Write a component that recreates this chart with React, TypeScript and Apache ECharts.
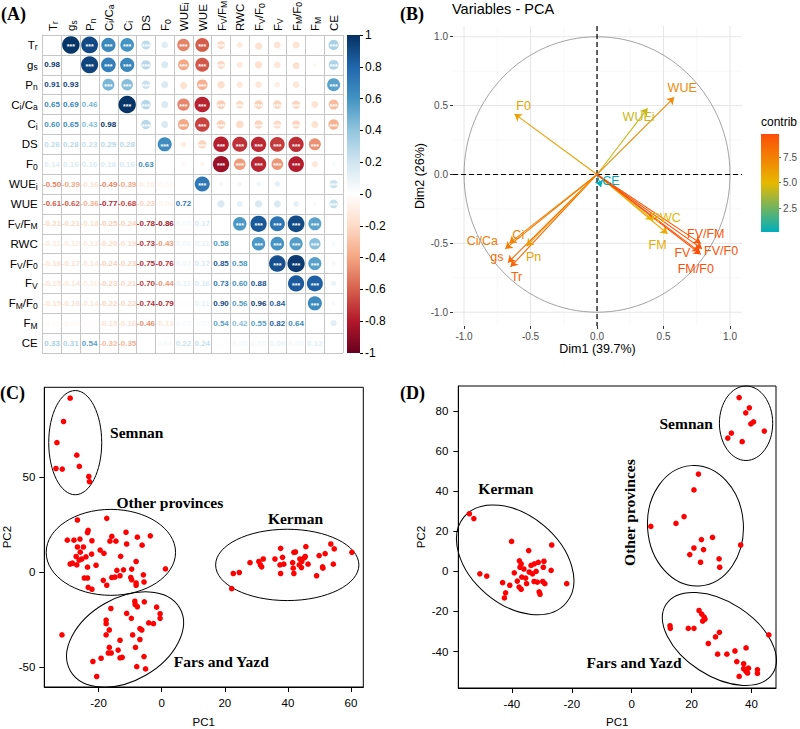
import React, { useEffect, useRef } from 'react';
import * as echarts from 'echarts';

// ---------------- Panel A: correlation matrix ----------------
const corrVars = ['Tr', 'gs', 'Pn', 'Ci/Ca', 'Ci', 'DS', 'F0', 'WUEi', 'WUE', 'FV/FM', 'RWC', 'FV/F0', 'FV', 'FM/F0', 'FM', 'CE'];
// lower triangle: row i holds correlations with variables 0..i-1
const corrRows: number[][] = [
  [],
  [0.98],
  [0.91, 0.93],
  [0.65, 0.69, 0.46],
  [0.60, 0.65, 0.43, 0.98],
  [0.26, 0.28, 0.23, 0.29, 0.28],
  [0.14, 0.16, 0.16, 0.16, 0.16, 0.63],
  [-0.50, -0.39, -0.16, -0.49, -0.39, -0.10, -0.04],
  [-0.61, -0.62, -0.36, -0.77, -0.68, -0.23, -0.06, 0.72],
  [-0.21, -0.21, -0.18, -0.25, -0.24, -0.78, -0.86, 0.05, 0.17],
  [-0.11, -0.12, -0.13, -0.20, -0.19, -0.73, -0.43, 0.06, 0.11, 0.58],
  [-0.16, -0.17, -0.14, -0.24, -0.23, -0.75, -0.76, 0.07, 0.17, 0.85, 0.58],
  [-0.15, -0.14, -0.10, -0.23, -0.21, -0.70, -0.44, 0.11, 0.16, 0.73, 0.60, 0.88],
  [-0.15, -0.16, -0.14, -0.22, -0.22, -0.74, -0.79, 0.01, 0.11, 0.90, 0.56, 0.96, 0.84],
  [-0.02, -0.04, -0.01, -0.15, -0.16, -0.46, -0.13, 0.03, 0.03, 0.54, 0.42, 0.55, 0.82, 0.64],
  [0.33, 0.31, 0.54, -0.32, -0.35, 0.00, 0.04, 0.22, 0.24, 0.01, 0.05, 0.05, 0.09, 0.05, 0.12],
];
const corrSigThreshold = 0.2;

// ---------------- Panel B: PCA variables ----------------
const pcaVarNames = ['Tr', 'gs', 'Pn', 'Ci/Ca', 'Ci', 'F0', 'WUEi', 'WUE', 'CE', 'RWC', 'FM', 'FV/FM', 'FV', 'FV/F0', 'FM/F0'];
const pcaDim1 = [-0.65, -0.67, -0.53, -0.69, -0.66, -0.62, 0.38, 0.58, 0.03, 0.42, 0.53, 0.78, 0.77, 0.79, 0.78];
const pcaDim2 = [-0.67, -0.64, -0.52, -0.54, -0.50, 0.44, 0.48, 0.56, -0.09, -0.33, -0.43, -0.50, -0.56, -0.54, -0.58];
const pcaContrib = [8.8, 8.6, 6.1, 7.7, 7.4, 6.1, 4.4, 7.1, 0.15, 5.0, 5.5, 9.5, 9.3, 9.6, 9.8];
const pcaAxisTicks = [-1, -0.5, 0, 0.5, 1];
const pcaMinorTicks = [-0.75, -0.25, 0.25, 0.75];
const contribTicks = [2.5, 5, 7.5];

// ---------------- Panel C: PC scores ----------------
const cSemnan: number[][] = [[-29.0, 91.5], [-31.1, 79.2], [-33.2, 68.1], [-26.9, 61.5], [-26.1, 55.6], [-33.5, 54.5], [-31.5, 54.2], [-23.1, 50.3], [-22.9, 47.6]];
const cOther: number[][] = [
  [-26.7, 27.4], [-17.4, 28.3], [-23.3, 22.0], [-23.5, 20.8], [-11.3, 21.0], [-3.6, 19.1], [-15.8, 18.8], [-7.7, 18.4],
  [-29.9, 16.8], [-27.8, 16.8], [-25.9, 17.4], [-22.1, 16.5], [-16.4, 16.3], [-14.5, 16.3], [-11.1, 14.8], [-6.2, 14.2],
  [-26.7, 13.2], [-24.8, 13.2], [-19.5, 11.6], [-18.3, 9.9], [-22.2, 9.5], [-27.1, 8.2], [-25.3, 6.9], [-26.1, 6.3],
  [-13.0, 8.3], [-8.1, 5.6], [-29.0, 4.3], [-28.3, 4.7], [-26.9, 3.8], [-23.5, 2.6], [-20.8, 3.6], [-12.1, 1.2],
  [-14.2, 0.9], [-9.5, 1.6], [1.2, 1.7], [-18.5, -4.3], [-15.8, -2.8], [-14.8, -2.6], [-9.8, -2.8], [-5.8, -1.4],
  [-17.4, -6.9], [-24.5, -3.1], [-23.5, -3.1], [-8.1, -5.7], [-8.1, -6.9], [-5.6, -5.2], [-23.3, -8.0], [-22.1, -9.0],
  [-13.2, -1.9], [-9.5, -4.0], [-24.0, 8.0], [-25.8, 10.5],
];
const cFarsYazd: number[][] = [
  [-8.5, -15.3], [-8.4, -17.0], [-5.5, -15.6], [-1.6, -18.4], [-7.7, -18.2], [-16.1, -19.1], [-11.1, -21.7], [-0.5, -21.9],
  [-0.5, -24.3], [-9.6, -24.3], [-17.6, -25.2], [-17.6, -27.1], [-4.1, -26.7], [-2.6, -27.1], [-16.6, -30.4], [-6.9, -29.7],
  [-6.3, -30.4], [-17.6, -33.0], [-9.2, -33.0], [-31.6, -33.0], [-13.2, -35.8], [-6.9, -35.4], [-16.6, -39.6], [-8.3, -39.6],
  [-13.8, -41.0], [-16.9, -42.5], [-16.0, -42.5], [-13.2, -45.1], [-12.5, -44.8], [-5.6, -44.4], [-19.2, -45.3], [-21.8, -47.0],
  [-7.9, -49.7], [-5.1, -50.9], [-20.6, -54.9],
];
const cKerman: number[][] = [
  [60.3, 10.4], [53.6, 14.8], [54.7, 12.2], [51.8, 9.7], [49.9, 8.7], [54.4, 4.2], [51.0, 2.8], [51.1, 2.1], [49.1, -1.9],
  [45.7, 13.4], [41.9, 10.4], [42.4, 10.6], [37.7, 12.5], [45.5, 8.2], [38.3, 7.8], [35.9, 6.9], [32.2, 6.9], [30.8, 5.6],
  [28.0, 5.0], [31.3, 3.8], [31.7, 2.8], [37.5, 3.8], [38.7, 4.2], [41.5, 5.0], [43.8, 6.9], [44.4, 5.6], [43.6, 3.8],
  [46.4, 4.2], [44.3, 2.4], [41.7, 2.1], [37.7, -0.7], [41.9, -0.7], [22.7, -0.7], [24.6, -0.2], [22.2, -8.7], [45.2, 7.5],
];
// ellipses: [centerX, centerY, semiAxisX, semiAxisY, rotationDeg]
const cEllipses: number[][] = [[-27.4, 68.1, 8.4, 27.4, 0], [-16.1, 10.4, 20.5, 22.6, 0], [39.8, 3.8, 22.7, 18.75, 0], [-11.6, -35.4, 20.0, 21.7, 30]];
const cGroupNames = ['Semnan', 'Other provinces', 'Kerman', 'Fars and Yazd'];
const cGroupLabelPos: number[][] = [[-7.9, 73.6], [2.6, 36.5], [42.4, 28.1], [18.9, -47.0]];
const cXTicks = [-20, 0, 20, 40, 60];
const cYTicks = [-50, 0, 50];

// ---------------- Panel D: PC scores ----------------
const dSemnan: number[][] = [[35.9, 86.8], [39.3, 81.7], [38.1, 79.2], [40.7, 74.7], [39.8, 73.7], [44.3, 70.1], [33.3, 69.1], [32.1, 66.6], [36.9, 64.8]];
const dOther: number[][] = [
  [22.3, 48.6], [20.8, 40.7], [17.5, 27.4], [14.8, 24.0], [6.4, 22.5], [27.0, 17.0], [23.3, 15.9], [20.8, 11.7],
  [24.0, 10.9], [36.4, 13.2], [19.4, 8.4], [29.2, 6.3], [23.0, 4.6], [29.4, 2.1],
];
const dKerman: number[][] = [
  [-54.2, 28.8], [-52.7, 26.4], [-40.1, 15.0], [-34.4, 10.4], [-26.7, 13.2], [-37.5, 5.3], [-36.9, 3.8], [-29.3, 5.1],
  [-31.2, 4.5], [-32.5, 3.8], [-33.6, 3.0], [-29.5, 2.1], [-50.7, -1.2], [-48.4, -2.3], [-39.2, -0.7], [-36.0, 1.2],
  [-34.2, -0.3], [-31.9, 0.0], [-33.1, -1.2], [-26.9, 0.5], [-36.7, -2.8], [-35.4, -3.3], [-38.2, -4.8], [-43.1, -5.6],
  [-40.7, -6.9], [-35.1, -6.1], [-36.9, -8.9], [-37.6, -7.8], [-31.5, -5.3], [-32.6, -5.0], [-29.7, -5.0], [-29.0, -6.1],
  [-21.7, -6.1], [-42.1, -10.7], [-42.5, -13.2], [-30.9, -10.2], [-30.6, -11.4], [-37.3, 2.1],
];
const dFarsYazd: number[][] = [
  [22.5, -19.5], [23.4, -21.3], [24.2, -22.8], [23.7, -24.8], [24.5, -23.8], [12.8, -27.1], [12.9, -28.4], [18.9, -28.4],
  [20.8, -28.4], [29.3, -30.4], [28.0, -32.7], [45.8, -31.7], [25.6, -36.0], [38.2, -38.2], [28.7, -41.3], [31.8, -41.3],
  [34.5, -39.7], [35.1, -45.0], [37.4, -46.1], [37.4, -48.6], [39.0, -48.3], [38.2, -49.9], [38.7, -50.7], [42.0, -49.1],
  [42.0, -50.9], [35.9, -52.4],
];
const dEllipses: number[][] = [[38.2, 74.0, 8.9, 18.6, 0], [21.3, 22.8, 16.0, 30.1, 4], [-38.9, 5.8, 22.3, 22.3, -40], [29.3, -33.7, 21.2, 18.5, -33]];
const dGroupNames = ['Semnan', 'Kerman', 'Other provinces', 'Fars and Yazd'];
const dGroupLabelPos: number[][] = [[18.2, 73.7], [-42.0, 41.3], [-0.6, 29.4], [0.8, -45.3]];
const dGroupLabelRot = [0, 0, 90, 0];
const dXTicks = [-40, -20, 0, 20, 40];
const dYTicks = [-40, -20, 0, 20, 40, 60, 80];

// ---------------- styles ----------------
const SANS = '"Liberation Sans", Arial, sans-serif';
const SERIF = '"Liberation Serif", "Times New Roman", serif';
const RDBU = ['#67001F', '#B2182B', '#D6604D', '#F4A582', '#FDDBC7', '#FFFFFF', '#D1E5F0', '#92C5DE', '#4393C3', '#2166AC', '#053061'];
const CONTRIB_COLS = ['#00AFBB', '#E7B800', '#FC4E07'];
const CELL_LINE = '#C6C6C6';
const POINT_RED = '#FF0000';

const richName: Record<string, string> = {
  'Tr': '{n|T}{s|r}', 'gs': '{n|g}{s|s}', 'Pn': '{n|P}{s|n}', 'Ci/Ca': '{n|C}{s|i}{n|/C}{s|a}', 'Ci': '{n|C}{s|i}',
  'DS': '{n|DS}', 'F0': '{n|F}{s|0}', 'WUEi': '{n|WUE}{s|i}', 'WUE': '{n|WUE}', 'FV/FM': '{n|F}{s|V}{n|/F}{s|M}',
  'RWC': '{n|RWC}', 'FV/F0': '{n|F}{s|V}{n|/F}{s|0}', 'FV': '{n|F}{s|V}', 'FM/F0': '{n|F}{s|M}{n|/F}{s|0}',
  'FM': '{n|F}{s|M}', 'CE': '{n|CE}',
};
const richStyles = {
  n: { fontSize: 11.5, lineHeight: 14, color: '#000', fill: '#000', fontFamily: SANS },
  s: { fontSize: 8.5, lineHeight: 8, color: '#000', fill: '#000', fontFamily: SANS, verticalAlign: 'bottom' },
};

const pcaLabelOffset: Record<string, number[]> = {
  'Tr': [6, 10], 'gs': [-11, -6], 'Pn': [7, 11], 'Ci/Ca': [-23, -8], 'Ci': [9, -8], 'F0': [9, -8], 'WUEi': [-9, 9],
  'WUE': [8, -9], 'CE': [10, -6], 'RWC': [13, -2], 'FM': [-10, 11], 'FV/FM': [5, -9], 'FV': [-17, 1], 'FV/F0': [19, 2],
  'FM/F0': [-5, 15],
};

function hexToRgb(h: string) {
  return [parseInt(h.slice(1, 3), 16), parseInt(h.slice(3, 5), 16), parseInt(h.slice(5, 7), 16)];
}
function gradientColor(stops: string[], t: number) {
  const tt = Math.max(0, Math.min(1, t)) * (stops.length - 1);
  const i = Math.min(stops.length - 2, Math.floor(tt));
  const f = tt - i;
  const a = hexToRgb(stops[i]);
  const b = hexToRgb(stops[i + 1]);
  const c = a.map((v, k) => Math.round(v + (b[k] - v) * f));
  return `rgb(${c[0]},${c[1]},${c[2]})`;
}

function buildOption() {
  const upper: number[][] = [];
  const lower: number[][] = [];
  corrRows.forEach((row, i) => row.forEach((r, j) => {
    lower.push([j, i, r]);
    upper.push([i, j, r]);
  }));

  const contribMin = Math.min(...pcaContrib);
  const contribMax = Math.max(...pcaContrib);
  const contribColor = (c: number) => gradientColor(CONTRIB_COLS, (c - contribMin) / (contribMax - contribMin));

  const catAxisCommon = {
    type: 'category',
    data: corrVars,
    boundaryGap: true,
    axisLine: { show: true, lineStyle: { color: CELL_LINE } },
    axisTick: { show: false },
    splitLine: { show: true, interval: 0, lineStyle: { color: CELL_LINE, width: 1 } },
  };

  const baseRAxis = (gi: number, min: number, max: number, ticks: number[], name: string, nameGap: number, margin: number) => ({
    gridIndex: gi,
    type: 'value',
    min,
    max,
    name,
    nameLocation: 'middle',
    nameGap,
    nameTextStyle: { fontSize: 11.5, color: '#000', fontFamily: SANS },
    axisLine: { show: true, onZero: false, lineStyle: { color: '#000', width: 1 } },
    axisTick: { show: true, customValues: ticks, length: 5, inside: false, lineStyle: { color: '#000' } },
    axisLabel: { customValues: ticks, fontSize: 11.5, color: '#000', margin, fontFamily: SANS },
    splitLine: { show: false },
  });

  const ellipseSeries = (gi: number, data: number[][]) => ({
    type: 'custom',
    xAxisIndex: gi,
    yAxisIndex: gi,
    silent: true,
    z: 2,
    data,
    renderItem: (params: any, api: any) => {
      const p = api.coord([api.value(0), api.value(1)]);
      const s = api.size([api.value(2), api.value(3)]);
      return {
        type: 'ellipse',
        x: p[0],
        y: p[1],
        rotation: (api.value(4) * Math.PI) / 180,
        shape: { cx: 0, cy: 0, rx: s[0], ry: s[1] },
        style: { fill: 'none', stroke: '#000', lineWidth: 1 },
      };
    },
  });

  const groupLabelSeries = (gi: number, pos: number[][], names: string[], rot: number[]) => ({
    type: 'custom',
    xAxisIndex: gi,
    yAxisIndex: gi,
    silent: true,
    z: 4,
    data: pos.map((p, i) => [p[0], p[1], i]),
    renderItem: (params: any, api: any) => {
      const i = api.value(2);
      const p = api.coord([api.value(0), api.value(1)]);
      return {
        type: 'text',
        x: p[0],
        y: p[1],
        rotation: (rot[i] * Math.PI) / 180,
        style: {
          text: names[i], fill: '#000', fontSize: 15.5, fontWeight: 'bold', fontFamily: SERIF,
          align: 'center', verticalAlign: 'middle', textAlign: 'center', textVerticalAlign: 'middle',
        },
      };
    },
  });

  const pointSeries = (gi: number, data: number[][]) => ({
    type: 'scatter',
    xAxisIndex: gi,
    yAxisIndex: gi,
    symbol: 'circle',
    symbolSize: 5.6,
    itemStyle: { color: POINT_RED, opacity: 1 },
    z: 3,
    data,
  });

  return {
    animation: false,
    backgroundColor: '#fff',
    textStyle: { fontFamily: SANS },
    grid: [
      { left: 42.7, top: 35, width: 300.3, height: 318 },
      { left: 347, top: 35, width: 13, height: 318 },
      { left: 453, top: 26, width: 289, height: 300 },
      { left: 761, top: 134, width: 19, height: 98 },
      { left: 44.3, top: 387.3, width: 319, height: 302.7, show: true, borderColor: '#000', borderWidth: 1 },
      { left: 458.3, top: 386, width: 317.7, height: 304, show: true, borderColor: '#000', borderWidth: 1 },
    ],
    xAxis: [
      {
        ...catAxisCommon,
        gridIndex: 0,
        position: 'top',
        axisLabel: { show: false },
      },
      { gridIndex: 1, type: 'value', min: 0, max: 1, show: false },
      {
        gridIndex: 2, type: 'value', min: -1.083, max: 1.09,
        name: 'Dim1 (39.7%)', nameLocation: 'middle', nameGap: 16,
        nameTextStyle: { fontSize: 12.5, color: '#000', fontFamily: SANS },
        axisLine: { show: false, onZero: false },
        axisTick: { show: true, customValues: pcaAxisTicks, length: 3, lineStyle: { color: '#333' } },
        axisLabel: { customValues: pcaAxisTicks, formatter: (v: number) => v.toFixed(1), fontSize: 10, color: '#4D4D4D', margin: 5 },
        splitLine: { show: false },
      },
      { gridIndex: 3, type: 'value', min: 0, max: 1, show: false },
      baseRAxis(4, -37.2, 63.9, cXTicks, 'PC1', 29, 10),
      baseRAxis(5, -57.9, 48.2, dXTicks, 'PC1', 28, 10),
    ],
    yAxis: [
      {
        ...catAxisCommon,
        gridIndex: 0,
        inverse: true,
        axisLabel: { interval: 0, margin: 5, formatter: (v: string) => richName[v] ?? v, rich: richStyles },
      },
      {
        gridIndex: 1, type: 'value', min: -1, max: 1, interval: 0.2, position: 'right',
        axisLine: { show: false, onZero: false },
        axisTick: { show: true, length: 3, lineStyle: { color: '#000' } },
        axisLabel: { fontSize: 12, color: '#000', margin: 5, formatter: (v: number) => String(Math.round(v * 10) / 10) },
        splitLine: { show: false },
      },
      {
        gridIndex: 2, type: 'value', min: -1.1, max: 1.078,
        name: 'Dim2 (26%)', nameLocation: 'middle', nameGap: 27,
        nameTextStyle: { fontSize: 12.5, color: '#000', fontFamily: SANS },
        axisLine: { show: false, onZero: false },
        axisTick: { show: true, customValues: pcaAxisTicks, length: 3, lineStyle: { color: '#333' } },
        axisLabel: { customValues: pcaAxisTicks, formatter: (v: number) => v.toFixed(1), fontSize: 10, color: '#4D4D4D', margin: 5 },
        splitLine: { show: false },
      },
      {
        gridIndex: 3, type: 'value', min: contribMin, max: contribMax, position: 'right',
        axisLine: { show: false, onZero: false },
        axisTick: { show: true, customValues: contribTicks, length: 2, lineStyle: { color: '#666' } },
        axisLabel: { customValues: contribTicks, formatter: (v: number) => v.toFixed(1), fontSize: 10, color: '#4D4D4D', margin: 4 },
        splitLine: { show: false },
      },
      baseRAxis(4, -60.4, 97.2, cYTicks, 'PC2', 31, 9),
      baseRAxis(5, -58.2, 92.6, dYTicks, 'PC2', 31, 10),
    ],
    visualMap: [
      {
        type: 'continuous', show: false, min: -1, max: 1, dimension: 2, seriesIndex: [0, 1],
        inRange: { color: RDBU },
      },
    ],
    graphic: [
      { type: 'text', left: 1, top: 5, style: { text: '(A)', fontSize: 18, fontWeight: 'bold', fontFamily: SERIF, fill: '#000' } },
      { type: 'text', left: 400, top: 5, style: { text: '(B)', fontSize: 18, fontWeight: 'bold', fontFamily: SERIF, fill: '#000' } },
      { type: 'text', left: 0, top: 384, style: { text: '(C)', fontSize: 18, fontWeight: 'bold', fontFamily: SERIF, fill: '#000' } },
      { type: 'text', left: 400, top: 384, style: { text: '(D)', fontSize: 18, fontWeight: 'bold', fontFamily: SERIF, fill: '#000' } },
      { type: 'text', left: 452, top: 1, style: { text: 'Variables - PCA', fontSize: 14.5, fontFamily: SANS, fill: '#000' } },
      { type: 'text', left: 761, top: 116, style: { text: 'contrib', fontSize: 12, fontFamily: SANS, fill: '#000' } },
    ],
    series: [
      // 0: circles (upper triangle)
      {
        type: 'custom', xAxisIndex: 0, yAxisIndex: 0, silent: true, z: 3,
        data: upper,
        renderItem: (params: any, api: any) => {
          const v = api.value(2) as number;
          const p = api.coord([api.value(0), api.value(1)]);
          const s = api.size([1, 1]);
          const cell = Math.min(s[0], s[1]);
          const r = Math.sqrt(Math.abs(v)) * cell * 0.47;
          const children: any[] = [
            { type: 'circle', shape: { cx: p[0], cy: p[1], r }, style: { fill: api.visual('color') } },
          ];
          if (Math.abs(v) >= corrSigThreshold) {
            children.push({
              type: 'text', x: p[0], y: p[1] + 1.8,
              style: { text: '***', fill: '#fff', fontSize: 7, fontWeight: 'bold', fontFamily: SANS, align: 'center', verticalAlign: 'middle', textAlign: 'center', textVerticalAlign: 'middle' },
            });
          }
          return { type: 'group', children };
        },
      },
      // 1: numbers (lower triangle)
      {
        type: 'custom', xAxisIndex: 0, yAxisIndex: 0, silent: true, z: 3,
        data: lower,
        renderItem: (params: any, api: any) => {
          const v = api.value(2) as number;
          const p = api.coord([api.value(0), api.value(1)]);
          return {
            type: 'text', x: p[0], y: p[1],
            style: { text: v.toFixed(2), fill: api.visual('color'), fontSize: 8, fontWeight: 'bold', fontFamily: SANS, align: 'center', verticalAlign: 'middle', textAlign: 'center', textVerticalAlign: 'middle' },
          };
        },
      },
      // 2: colour bar A
      {
        type: 'custom', xAxisIndex: 1, yAxisIndex: 1, silent: true,
        data: [[0.5, 0]],
        renderItem: (params: any) => {
          const cs = params.coordSys;
          const stops = RDBU.slice().reverse().map((c, i) => ({ offset: i / (RDBU.length - 1), color: c }));
          return { type: 'rect', shape: { x: cs.x, y: cs.y, width: cs.width, height: cs.height }, style: { fill: new echarts.graphic.LinearGradient(0, 0, 0, 1, stops) } };
        },
      },
      // 3: PCA backdrop (grid, circle, dashed axes)
      {
        type: 'custom', xAxisIndex: 2, yAxisIndex: 2, silent: true, z: 1,
        data: [[0, 0]],
        renderItem: (params: any, api: any) => {
          const cs = params.coordSys;
          const els: any[] = [];
          const addV = (v: number, stroke: string, w: number, dash?: number[]) => {
            const x = api.coord([v, 0])[0];
            els.push({ type: 'line', shape: { x1: x, y1: cs.y, x2: x, y2: cs.y + cs.height }, style: { stroke, lineWidth: w, lineDash: dash } });
          };
          const addH = (v: number, stroke: string, w: number, dash?: number[]) => {
            const y = api.coord([0, v])[1];
            els.push({ type: 'line', shape: { x1: cs.x, y1: y, x2: cs.x + cs.width, y2: y }, style: { stroke, lineWidth: w, lineDash: dash } });
          };
          pcaMinorTicks.forEach((v) => { addV(v, '#F2F2F2', 0.6); addH(v, '#F2F2F2', 0.6); });
          pcaAxisTicks.forEach((v) => { addV(v, '#E6E6E6', 1); addH(v, '#E6E6E6', 1); });
          const o = api.coord([0, 0]);
          const s = api.size([1, 1]);
          els.push({ type: 'ellipse', shape: { cx: o[0], cy: o[1], rx: s[0], ry: s[1] }, style: { fill: 'none', stroke: '#8C8C8C', lineWidth: 0.8 } });
          addV(0, '#000', 1.2, [5, 3]);
          addH(0, '#000', 1.2, [5, 3]);
          return { type: 'group', children: els };
        },
      },
      // 4: PCA arrows
      {
        type: 'lines', coordinateSystem: 'cartesian2d', xAxisIndex: 2, yAxisIndex: 2, silent: true, z: 3,
        symbol: ['none', 'arrow'], symbolSize: 7,
        lineStyle: { width: 1.1, opacity: 1, curveness: 0 },
        data: pcaVarNames.map((n, i) => ({
          coords: [[0, 0], [pcaDim1[i], pcaDim2[i]]],
          lineStyle: { color: contribColor(pcaContrib[i]) },
        })),
      },
      // 5: PCA labels
      {
        type: 'custom', xAxisIndex: 2, yAxisIndex: 2, silent: true, z: 4,
        data: pcaVarNames.map((n, i) => [pcaDim1[i], pcaDim2[i], i]),
        renderItem: (params: any, api: any) => {
          const i = api.value(2);
          const name = pcaVarNames[i];
          const p = api.coord([api.value(0), api.value(1)]);
          const off = pcaLabelOffset[name] || [0, 0];
          return {
            type: 'text', x: p[0] + off[0], y: p[1] + off[1],
            style: { text: name, fill: contribColor(pcaContrib[i]), fontSize: 12.5, fontFamily: SANS, align: 'center', verticalAlign: 'middle', textAlign: 'center', textVerticalAlign: 'middle' },
          };
        },
      },
      // 6: contrib colour bar
      {
        type: 'custom', xAxisIndex: 3, yAxisIndex: 3, silent: true,
        data: [[0.5, contribMin]],
        renderItem: (params: any) => {
          const cs = params.coordSys;
          const stops = CONTRIB_COLS.slice().reverse().map((c, i) => ({ offset: i / (CONTRIB_COLS.length - 1), color: c }));
          return { type: 'rect', shape: { x: cs.x, y: cs.y, width: cs.width, height: cs.height }, style: { fill: new echarts.graphic.LinearGradient(0, 0, 0, 1, stops) } };
        },
      },
      // Panel C
      ellipseSeries(4, cEllipses),
      pointSeries(4, [...cSemnan, ...cOther, ...cFarsYazd, ...cKerman]),
      groupLabelSeries(4, cGroupLabelPos, cGroupNames, [0, 0, 0, 0]),
      // Panel D
      ellipseSeries(5, dEllipses),
      pointSeries(5, [...dSemnan, ...dOther, ...dKerman, ...dFarsYazd]),
      groupLabelSeries(5, dGroupLabelPos, dGroupNames, dGroupLabelRot),
      // column headers of the matrix (rotated, with subscripts)
      {
        type: 'custom', xAxisIndex: 0, yAxisIndex: 0, silent: true, z: 5,
        data: corrVars.map((v, j) => [j, 0]),
        renderItem: (params: any, api: any) => {
          const j = api.value(0);
          const x = api.coord([j, 0])[0];
          const cs = params.coordSys;
          return {
            type: 'text', x: x + 0.5, y: cs.y - 4, rotation: Math.PI / 2,
            style: {
              text: richName[corrVars[j]], rich: richStyles, fill: '#000', fontFamily: SANS, fontSize: 11.5,
              align: 'left', verticalAlign: 'middle', textAlign: 'left', textVerticalAlign: 'middle',
            },
          };
        },
      },
    ],
  };
}

export default function App() {
  const ref = useRef<HTMLDivElement>(null);
  useEffect(() => {
    if (!ref.current) return;
    const chart = echarts.init(ref.current, null, { renderer: 'svg' });
    chart.setOption(buildOption() as any);
    return () => chart.dispose();
  }, []);
  return <div ref={ref} style={{ position: 'absolute', left: 0, top: 0, width: 800, height: 729, background: '#fff' }} />;
}
